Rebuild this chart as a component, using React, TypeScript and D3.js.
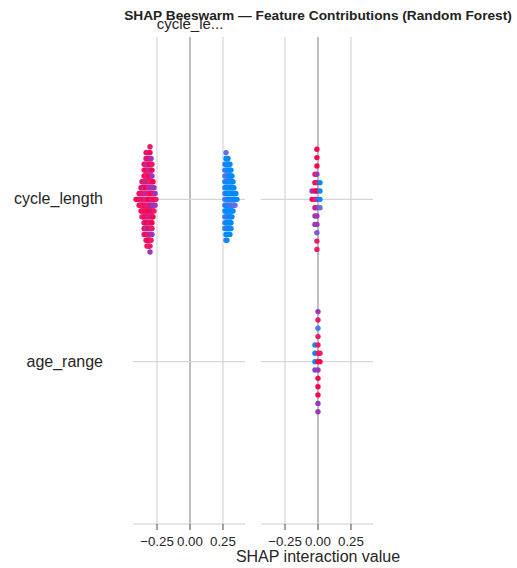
import React from "react";
import * as d3 from "d3";

// rows (top to bottom) and column titles
const features = ["cycle_length", "age_range"];
const columnTitles = ["cycle_le...", ""];
const xTicks = [-0.25, 0, 0.25];
const xDomain = [-0.432, 0.417];

// beeswarm bins: [shap interaction value, feature values of the stacked dots top->bottom, 0 = low .. 9 = high]
const cycleByCycle: [number, string][] = [
  [-0.409, "9"],
  [-0.402, "8"],
  [-0.394, "9"],
  [-0.386, "898"],
  [-0.379, "989"],
  [-0.371, "98889"],
  [-0.364, "8987898"],
  [-0.356, "9589878"],
  [-0.348, "8898978898988"],
  [-0.341, "9895788989598"],
  [-0.333, "8959889578989598"],
  [-0.326, "95898598788995989"],
  [-0.318, "89578985989598798"],
  [-0.311, "59889758989859598"],
  [-0.303, "8989598789598989985"],
  [-0.295, "595885989598558"],
  [-0.288, "8958598595985"],
  [-0.28, "9588599"],
  [-0.273, "58958"],
  [-0.265, "595"],
  [-0.258, "8"],
  [0.265, "202002020020"],
  [0.273, "2002200020020002"],
  [0.28, "000200020000200"],
  [0.288, "00020000002000"],
  [0.295, "0000000200000"],
  [0.303, "0002000000000"],
  [0.311, "00000020000"],
  [0.318, "00000200"],
  [0.326, "000200"],
  [0.333, "0002"],
  [0.341, "002"],
  [0.348, "00"],
  [0.356, "0"],
];
const ageByCycle: [number, string][] = [];
const cycleByAge: [number, string][] = [
  [-0.045, "59"],
  [-0.023, "8998955"],
  [-0.008, "9995895555388"],
  [0.015, "0002"],
];
const ageByAge: [number, string][] = [
  [-0.023, "0004"],
  [0.0, "5818889599955"],
  [0.015, "89"],
];

const panels = [
  [cycleByCycle, ageByCycle],
  [cycleByAge, ageByAge],
];

// blue (low) -> purple -> red (high), like shap's red_blue map
const shapColor = d3
  .scaleLinear<string>()
  .domain([0, 0.5, 1])
  .range(["#008bfb", "#8e38c8", "#ff0051"])
  .interpolate(d3.interpolateLab);

const W = 517;
const H = 568;
const panelLeft = [133, 261];
const panelW = 112;
const top = 37;
const bottom = 524;
const font = "'Liberation Sans', Arial, sans-serif";

export default function App() {
  const y = d3.scaleLinear().domain([-1, 2]).range([top, bottom]);
  const rowH = 0.4 * (y(1) - y(0));

  return (
    <svg
      width={W}
      height={H}
      style={{ position: "absolute", left: 0, top: 0, background: "#fff" }}
      fontFamily={font}
    >
      {panels.map((rows, p) => {
        const x = d3
          .scaleLinear()
          .domain(xDomain)
          .range([panelLeft[p], panelLeft[p] + panelW]);
        return (
          <g key={p}>
            {xTicks.map((t) => (
              <line
                key={"g" + t}
                x1={x(t)}
                x2={x(t)}
                y1={top}
                y2={bottom}
                stroke={t === 0 ? "#999999" : "#cccccc"}
                strokeWidth={t === 0 ? 1.3 : 1}
              />
            ))}
            {features.map((f, i) => (
              <line
                key={"r" + f}
                x1={panelLeft[p]}
                x2={panelLeft[p] + panelW}
                y1={y(i)}
                y2={y(i)}
                stroke="#d6d6d6"
                strokeWidth={1.4}
              />
            ))}
            <line
              x1={panelLeft[p]}
              x2={panelLeft[p] + panelW}
              y1={bottom}
              y2={bottom}
              stroke="#cccccc"
              strokeWidth={1.2}
            />
            {xTicks.map((t) => (
              <g key={"t" + t}>
                <line x1={x(t)} x2={x(t)} y1={bottom} y2={bottom + 6} stroke="#444" strokeWidth={1} />
                <text x={x(t)} y={546} textAnchor="middle" fontSize={13.3} fill="#262626">
                  {d3.format(".2f")(t).replace("-", "\u2212")}
                </text>
              </g>
            ))}
            {rows.map((bins, r) => {
              const maxLayer = d3.max(bins, (b) => Math.floor(b[1].length / 2)) ?? 0;
              const step = (0.9 * rowH) / (maxLayer + 1);
              return (
                <g key={"d" + r}>
                  {bins.map(([v, fv], bi) =>
                    fv.split("").map((ch, k) => {
                      const layer = Math.floor(fv.length / 2) - k;
                      return (
                        <circle
                          key={bi + "-" + k}
                          cx={x(v)}
                          cy={y(r) - layer * step}
                          r={2.7}
                          fill={shapColor(+ch / 9)}
                        />
                      );
                    })
                  )}
                </g>
              );
            })}
            {columnTitles[p] && (
              <text x={x(0)} y={29} textAnchor="middle" fontSize={15} fill="#262626">
                {columnTitles[p]}
              </text>
            )}
          </g>
        );
      })}
      {features.map((f, i) => (
        <text key={f} x={103} y={y(i) + 5} textAnchor="end" fontSize={16} fill="#262626">
          {f}
        </text>
      ))}
      <text x={318} y={562} textAnchor="middle" fontSize={16} fill="#262626">
        SHAP interaction value
      </text>
      <text x={318} y={20} textAnchor="middle" fontSize={13.7} fontWeight="bold" fill="#222">
        SHAP Beeswarm — Feature Contributions (Random Forest)
      </text>
    </svg>
  );
}
